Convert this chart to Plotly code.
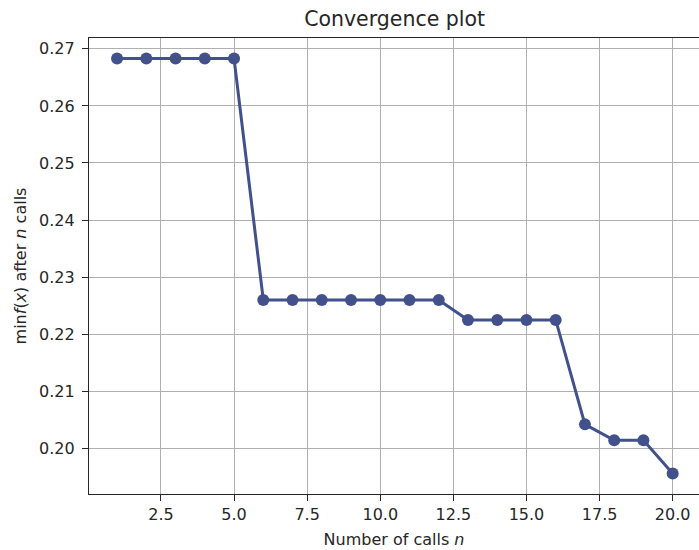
import plotly.graph_objects as go

n_calls = [1, 2, 3, 4, 5, 6, 7, 8, 9, 10, 11, 12, 13, 14, 15, 16, 17, 18, 19, 20]
min_vals = [0.2683, 0.2683, 0.2683, 0.2683, 0.2683,
            0.2260, 0.2260, 0.2260, 0.2260, 0.2260, 0.2260, 0.2260,
            0.2225, 0.2225, 0.2225, 0.2225,
            0.2042, 0.2014, 0.2014, 0.1956]
x_ticks = [2.5, 5.0, 7.5, 10.0, 12.5, 15.0, 17.5, 20.0]
x_tick_labels = ["2.5", "5.0", "7.5", "10.0", "12.5", "15.0", "17.5", "20.0"]
y_ticks = [0.20, 0.21, 0.22, 0.23, 0.24, 0.25, 0.26, 0.27]
y_tick_labels = ["0.20", "0.21", "0.22", "0.23", "0.24", "0.25", "0.26", "0.27"]

color = "#42518c"
font = "DejaVu Sans"

fig = go.Figure()
fig.add_trace(go.Scatter(
    x=n_calls, y=min_vals, mode="lines+markers",
    line=dict(color=color, width=3),
    marker=dict(color=color, size=12),
    showlegend=False,
))

fig.update_layout(
    width=699, height=550,
    margin=dict(l=89, r=0, t=38, b=56, autoexpand=False),
    paper_bgcolor="white", plot_bgcolor="white",
    font=dict(family=font, size=16, color="#262626"),
    title=dict(text="Convergence plot", x=0.501, xref="paper", xanchor="center",
               y=1 - 19 / 550, yref="container", yanchor="middle",
               font=dict(family=font, size=20.5, color="#262626")),
    xaxis=dict(
        range=[0.04, 20.9], tickvals=x_ticks, ticktext=x_tick_labels,
        showgrid=True, gridcolor="#b0b0b0", gridwidth=1,
        showline=True, linecolor="#262626", linewidth=1.2, mirror=True,
        ticks="outside", ticklen=6, tickcolor="#262626",
        zeroline=False, automargin=False,
        title=dict(text="Number of calls <i>n</i>", font=dict(size=16), standoff=10),
        tickfont=dict(size=16),
    ),
    yaxis=dict(
        range=[0.1920, 0.2719], tickvals=y_ticks, ticktext=y_tick_labels,
        showgrid=True, gridcolor="#b0b0b0", gridwidth=1,
        showline=True, linecolor="#262626", linewidth=1.2, mirror=False,
        ticks="outside", ticklen=6, tickcolor="#262626", ticklabelstandoff=4,
        zeroline=False, automargin=False,
        title=dict(text="min<i>f</i>(<i>x</i>) after <i>n</i> calls", font=dict(size=16), standoff=8),
        tickfont=dict(size=16),
    ),
)

fig.write_html("out.html", config={"displayModeBar": False},
               post_script="document.body.style.margin='0px';document.body.style.overflow='hidden';")
